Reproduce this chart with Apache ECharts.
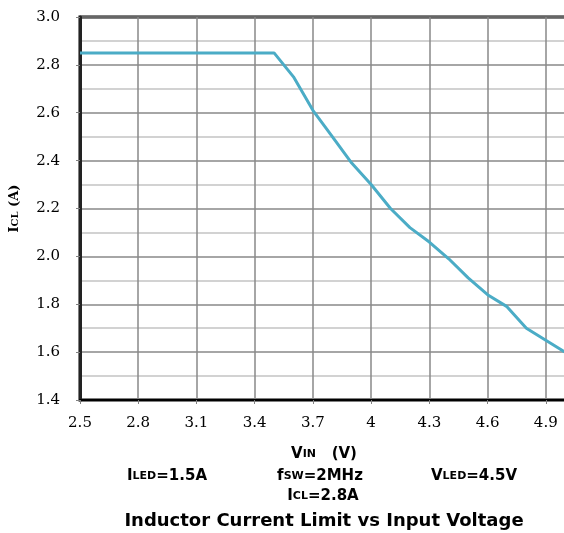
<!DOCTYPE html>
<html>
<head>
<meta charset="utf-8">
<script src="https://cdn.jsdelivr.net/npm/echarts@6/dist/echarts.min.js"></script>
<style>
    html, body { margin: 0; padding: 0; background: #fff; }
    #chart { width: 564px; height: 533px; }
</style>
</head>
<body>
<div id="chart"></div>
<script>
// input voltage (V)
const vin = [2.5, 2.6, 2.7, 2.8, 2.9, 3.0, 3.1, 3.2, 3.3, 3.4, 3.5, 3.6, 3.7, 3.8, 3.9, 4.0, 4.1, 4.2, 4.3, 4.4, 4.5, 4.6, 4.7, 4.8, 4.9, 5.0];
// inductor current limit (A)
const icl = [2.85, 2.85, 2.85, 2.85, 2.85, 2.85, 2.85, 2.85, 2.85, 2.85, 2.85, 2.75, 2.61, 2.50, 2.39, 2.30, 2.20, 2.12, 2.06, 1.99, 1.91, 1.84, 1.79, 1.70, 1.65, 1.60];

const xRange = [2.5, 5.2, 0.3];
const yRange = [1.4, 3.0, 0.2];

const sans = 'DejaVu Sans';
const serif = 'DejaVu Serif';

const capsRich = {
    b: { fontFamily: sans, fontWeight: 'bold', fontSize: 15, lineHeight: 16, color: '#000', verticalAlign: 'bottom' },
    s: { fontFamily: sans, fontWeight: 'bold', fontSize: 11, lineHeight: 13, color: '#000', verticalAlign: 'bottom', padding: [0, 0, 2, 0] }
};

const note = (text, x, y) => ({
    type: 'text',
    x: x,
    y: y,
    style: {
        text: text,
        rich: capsRich,
        align: 'center',
        verticalAlign: 'middle'
    }
});

const chartFn = () => {
    let chart = echarts.init(document.getElementById('chart'), null, { renderer: 'canvas' });
    const option = {
        animation: false,
        backgroundColor: '#fff',
        grid: {
            left: 80,
            top: 17,
            width: 524,
            height: 383,
            outerBoundsMode: 'none',
            containLabel: false,
            show: true,
            borderColor: '#000',
            borderWidth: 3
        },
        xAxis: {
            type: 'value',
            min: xRange[0],
            max: xRange[1],
            interval: xRange[2],
            axisLine: { lineStyle: { color: '#000', width: 2 } },
            axisTick: { show: true, length: 4, lineStyle: { color: '#808080' } },
            axisLabel: {
                fontFamily: serif,
                fontSize: 15,
                color: '#000',
                margin: 16,
                showMaxLabel: false
            },
            splitLine: { lineStyle: { color: '#888', width: 1.5 } }
        },
        yAxis: {
            type: 'value',
            min: yRange[0],
            max: yRange[1],
            interval: yRange[2],
            name: '{a|I}{c|CL}{a| (A)}',
            nameLocation: 'middle',
            nameGap: 59,
            nameTextStyle: {
                rich: {
                    a: { fontFamily: serif, fontWeight: 'bold', fontSize: 13, lineHeight: 14, color: '#000', verticalAlign: 'bottom' },
                    c: { fontFamily: serif, fontWeight: 'bold', fontSize: 10, lineHeight: 12, color: '#000', verticalAlign: 'bottom', padding: [0, 0, 1, 0] }
                }
            },
            axisLine: { show: true, lineStyle: { color: '#222', width: 3 } },
            axisTick: { show: true, length: 4, lineStyle: { color: '#808080' } },
            axisLabel: {
                fontFamily: serif,
                fontSize: 15,
                color: '#000',
                margin: 20,
                formatter: v => v.toFixed(1)
            },
            splitLine: { lineStyle: { color: '#888', width: 1.5 } },
            minorTick: { show: false, splitNumber: 2 },
            minorSplitLine: { show: true, lineStyle: { color: '#c4c4c4', width: 1.5 } }
        },
        series: [
            {
                type: 'line',
                data: vin.map((v, i) => [v, icl[i]]),
                showSymbol: false,
                color: '#4bacc6',
                lineStyle: { width: 3, color: '#4bacc6' }
            }
        ],
        graphic: [
            note('{b|V}{s|IN}{b|   (V)}', 324, 454),
            note('{b|I}{s|LED}{b|=1.5A}', 167, 476),
            note('{b|f}{s|SW}{b|=2MHz}', 320, 476),
            note('{b|V}{s|LED}{b|=4.5V}', 474, 476),
            note('{b|I}{s|CL}{b|=2.8A}', 323, 496),
            {
                type: 'text',
                x: 324,
                y: 521,
                style: {
                    text: 'Inductor Current Limit vs Input Voltage',
                    fontFamily: sans,
                    fontWeight: 'bold',
                    fontSize: 18,
                    fill: '#000',
                    align: 'center',
                    verticalAlign: 'middle'
                }
            }
        ]
    };
    chart.setOption(option);
    return chart;
};

chartFn();
</script>
</body>
</html>
